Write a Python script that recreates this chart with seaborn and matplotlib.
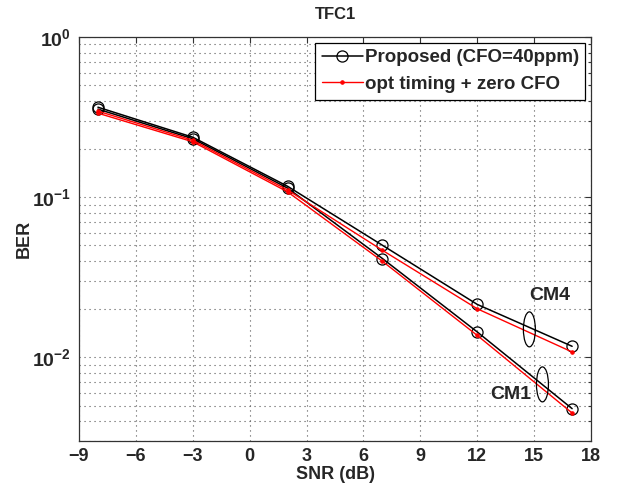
import numpy as np
import pandas as pd
import matplotlib
matplotlib.use("Agg")
import matplotlib.pyplot as plt
import seaborn as sns
from matplotlib.patches import Ellipse
from matplotlib.ticker import FixedLocator, FuncFormatter, LogLocator, NullFormatter

snr = [-8, -3, 2, 7, 12, 17]
prop_cm4 = [0.365, 0.237, 0.117, 0.0501, 0.0214, 0.01172]
prop_cm1 = [0.355, 0.232, 0.114, 0.0414, 0.0144, 0.00478]
opt_cm4 = [0.345, 0.227, 0.111, 0.0466, 0.0201, 0.0108]
opt_cm1 = [0.335, 0.222, 0.108, 0.0398, 0.0137, 0.00449]
xticks = [-9, -6, -3, 0, 3, 6, 9, 12, 15, 18]
yticks = [1e-2, 1e-1, 1e0]
labels = ["Proposed (CFO=40ppm)", "opt timing + zero CFO"]

sns.set_style("white")
plt.rcParams['font.family'] = ['Liberation Sans', 'DejaVu Sans']
plt.rcParams['font.weight'] = 'bold'
plt.rcParams['mathtext.fontset'] = 'custom'
plt.rcParams['mathtext.rm'] = 'Liberation Sans:bold'
plt.rcParams['mathtext.bf'] = 'Liberation Sans:bold'
plt.rcParams['mathtext.it'] = 'Liberation Sans:bold'

fig = plt.figure(figsize=(6.17, 4.95), dpi=100)
ax = fig.add_axes([0.128, 0.109, 0.830, 0.816])

for i, ys in enumerate([prop_cm4, prop_cm1]):
    sns.lineplot(x=snr, y=ys, ax=ax, color='black', lw=1.1, marker='o',
                 markersize=8, markerfacecolor='none', markeredgecolor='black',
                 markeredgewidth=0.9, label=labels[0] if i == 0 else None,
                 zorder=3)
for i, ys in enumerate([opt_cm4, opt_cm1]):
    sns.lineplot(x=snr, y=ys, ax=ax, color='red', lw=1.0, marker='.',
                 markersize=5, markeredgecolor='red',
                 label=labels[1] if i == 0 else None, zorder=4)

ax.set_yscale('log')
ax.set_xlim(-9, 18)
ax.set_ylim(3e-3, 1)
ax.xaxis.set_major_locator(FixedLocator(xticks))
ax.set_xticklabels([str(t).replace('-', '\u2212') for t in xticks])
ax.yaxis.set_major_locator(FixedLocator(yticks))
ax.yaxis.set_major_formatter(FuncFormatter(
    lambda v, p: r'$10^{%d}$' % int(round(np.log10(v)))))
ax.yaxis.set_minor_locator(LogLocator(base=10, subs=np.arange(2, 10)))
ax.yaxis.set_minor_formatter(NullFormatter())

ax.grid(True, which='major', axis='both', color='#555555', linestyle=(0, (1, 3.5)), lw=0.8)
ax.grid(True, which='minor', axis='y', color='#555555', linestyle=(0, (1, 3.5)), lw=0.8)
ax.tick_params(axis='both', which='both', direction='in', top=True, right=True,
               length=4, width=0.8, color='#333333')
ax.tick_params(axis='x', labelsize=13, pad=5)
ax.tick_params(axis='y', labelsize=14, pad=6)
ax.tick_params(axis='both', which='minor', length=2)
for s in ax.spines.values():
    s.set_color('#333333')
    s.set_linewidth(0.9)

ax.set_xlabel('SNR (dB)', fontsize=13, fontweight='bold', labelpad=1)
ax.set_ylabel('BER', fontsize=13, fontweight='bold')
ax.yaxis.set_label_coords(-0.09, 0.5)
ax.set_title('TFC1', fontsize=12, fontweight='bold', pad=13)

leg = ax.legend(loc='upper right', fontsize=13.5, frameon=True, fancybox=False,
                edgecolor='black', borderaxespad=0.3, handlelength=2.2,
                borderpad=0.35, labelspacing=0.5, handletextpad=0.1)
leg.get_frame().set_linewidth(0.9)
leg.get_frame().set_alpha(1)

ax.add_patch(Ellipse((0.8795, 0.2765), 0.0234, 0.0866, transform=ax.transAxes,
                     fill=False, edgecolor='black', lw=0.9, zorder=5))
ax.add_patch(Ellipse((0.905, 0.1403), 0.0234, 0.0866, transform=ax.transAxes,
                     fill=False, edgecolor='black', lw=0.9, zorder=5))
ax.text(0.9186, 0.361, 'CM4', transform=ax.transAxes, ha='center', va='center',
        fontsize=14, fontweight='bold')
ax.text(0.844, 0.116, 'CM1', transform=ax.transAxes, ha='center', va='center',
        fontsize=14, fontweight='bold')

fig.savefig('out.png', dpi=100)
